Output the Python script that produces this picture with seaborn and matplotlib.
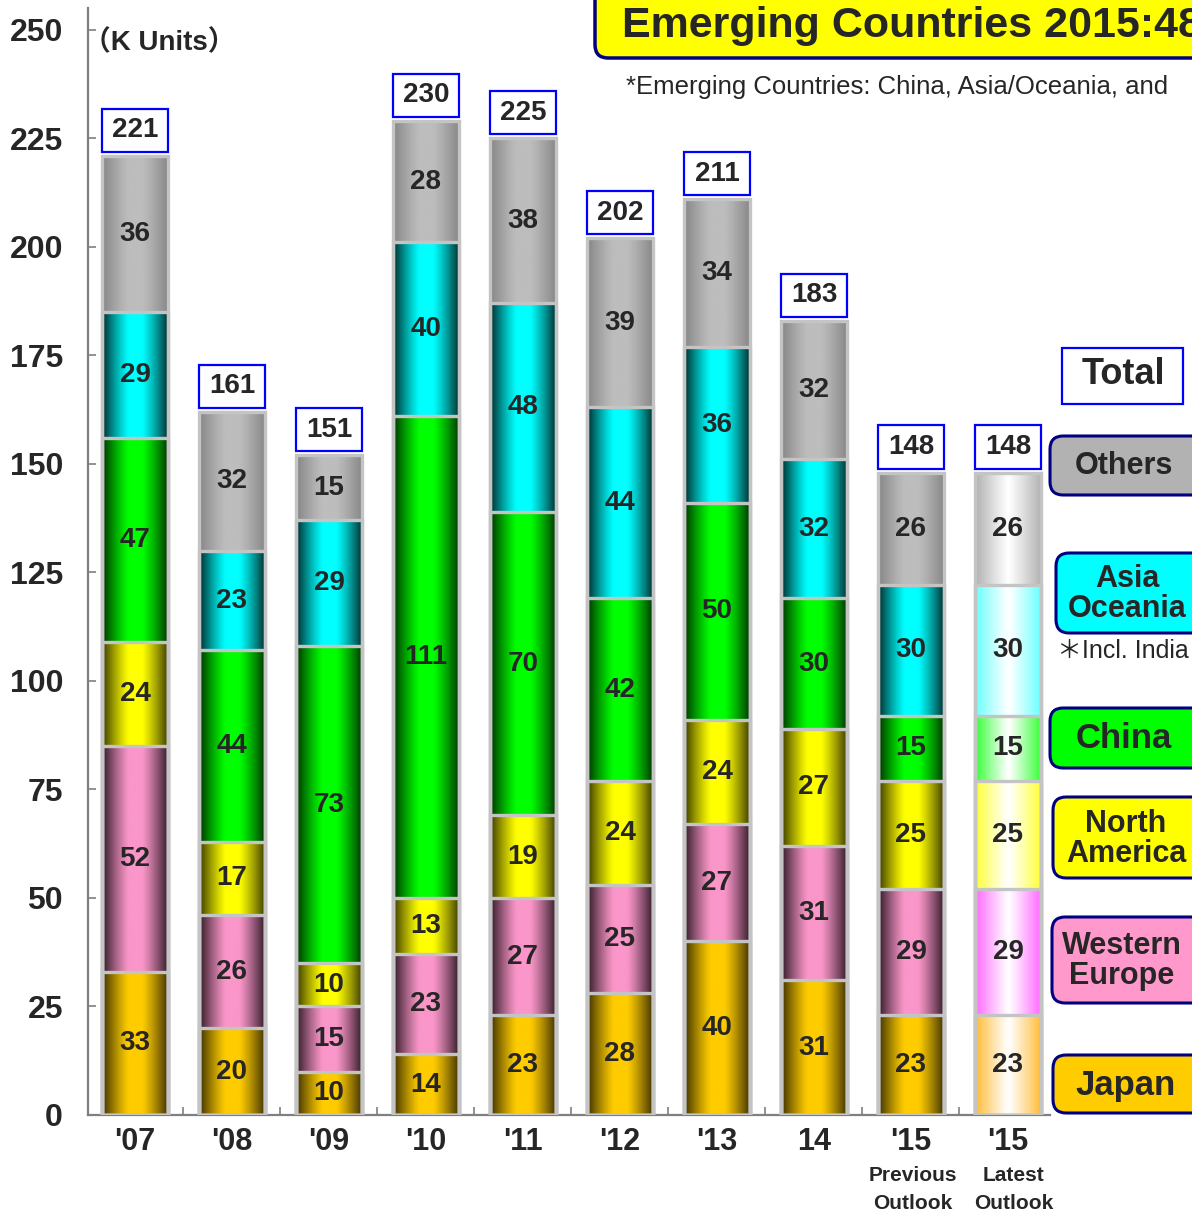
import numpy as np
import pandas as pd
import seaborn as sns
import matplotlib.pyplot as plt
from matplotlib.patches import FancyBboxPatch, Rectangle
from matplotlib.colors import to_rgb

# --- data (K units) ---
year_keys = ["2007", "2008", "2009", "2010", "2011", "2012", "2013", "2014", "2015P", "2015L"]
year_labels = ["'07", "'08", "'09", "'10", "'11", "'12", "'13", "14", "'15", "'15"]
sub_labels = ["", "", "", "", "", "", "", "", "Previous\nOutlook", "Latest\nOutlook"]

japan = [33, 20, 10, 14, 23, 28, 40, 31, 23, 23]
w_europe = [52, 26, 15, 23, 27, 25, 27, 31, 29, 29]
n_america = [24, 17, 10, 13, 19, 24, 24, 27, 25, 25]
china = [47, 44, 73, 111, 70, 42, 50, 30, 15, 15]
asia_oceania = [29, 23, 29, 40, 48, 44, 36, 32, 30, 30]
others = [36, 32, 15, 28, 38, 39, 34, 32, 26, 26]
totals = [221, 161, 151, 230, 225, 202, 211, 183, 148, 148]

region_names = ["Japan", "Western Europe", "North America", "China", "Asia Oceania", "Others"]
# centre colour, dark edge colour, pale edge colour (latest outlook bar)
region_colors = {
    "Japan": ("#ffcc00", "#3a2e00", "#ffbb33"),
    "Western Europe": ("#fa96c9", "#2c1823", "#ff66ff"),
    "North America": ("#ffff00", "#383800", "#ffff33"),
    "China": ("#00ff00", "#003000", "#33ff33"),
    "Asia Oceania": ("#00ffff", "#002a2a", "#66ffff"),
    "Others": ("#bdbdbd", "#858585", "#b0b0b0"),
}

W, H = 1192, 1210
PX_PER_UNIT = 1085 / 250


def cylinder(center, edge, n=160):
    t = np.linspace(0, 1, n)
    d = np.abs(2 * t - 1)
    m = np.clip((d - 0.2) / 0.8, 0, 1) ** 1.2
    c, e = np.array(to_rgb(center)), np.array(to_rgb(edge))
    return (c[None, :] * (1 - m[:, None]) + e[None, :] * m[:, None])[None, :, :]


def pale(edge, n=160):
    t = np.linspace(0, 1, n)
    d = np.abs(2 * t - 1) ** 1.1
    e = np.array(to_rgb(edge))
    return (np.ones(3)[None, :] * (1 - d[:, None]) + e[None, :] * d[:, None])[None, :, :]


def fig_box(x0, y0, x1, y1, fc, ec, lw, round_=True):
    style = "round,pad=0,rounding_size=0.011" if round_ else "square,pad=0"
    box = FancyBboxPatch((x0 / W, 1 - y1 / H), (x1 - x0) / W, (y1 - y0) / H,
                         boxstyle=style, transform=fig.transFigure,
                         fc=fc, ec=ec, lw=lw, zorder=5)
    fig.add_artist(box)


def fig_text(x, y, s, size, weight="bold", ha="center", **kw):
    fig.text(x / W, 1 - y / H, s, fontsize=size, fontweight=weight,
             ha=ha, va="center", linespacing=1.0, **kw)


sns.set_style("white")
plt.rcParams["font.family"] = ["Liberation Sans", "Noto Sans CJK JP", "DejaVu Sans"]

df = pd.DataFrame(dict(zip(region_names, [japan, w_europe, n_america, china, asia_oceania, others])),
                  index=year_keys)
cum = df.cumsum(axis=1)

fig = plt.figure(figsize=(W / 100, H / 100), dpi=100)
ax = fig.add_axes([88 / W, 1 - 1115 / H, (1050 - 88) / W, (1115 - 8) / H])

# stack by drawing cumulative bars from the top layer down
bar_geom = {}
for k in reversed(range(len(region_names))):
    name = region_names[k]
    center, dark, light = region_colors[name]
    n0 = len(ax.patches)
    sns.barplot(x=year_keys, y=cum[name].values, order=year_keys, color=center,
                width=0.69, saturation=1, errorbar=None, ax=ax)
    for j, p in enumerate(ax.patches[n0:]):
        x0, w, h = p.get_x(), p.get_width(), p.get_height()
        bar_geom[j] = (x0, w)
        grad = pale(light) if j == len(year_keys) - 1 else cylinder(center, dark)
        ax.imshow(grad, extent=[x0, x0 + w, 0, h], aspect="auto",
                  interpolation="bilinear", zorder=10 - k)
        p.set_facecolor("none")
        p.set_edgecolor("#c4c4c4")
        p.set_linewidth(2.4)
        p.set_zorder(20)

# segment values
for name in region_names:
    for i, key in enumerate(year_keys):
        v = df.loc[key, name]
        ax.text(i, cum.loc[key, name] - v / 2, str(v), ha="center", va="center",
                fontsize=20, fontweight="bold", zorder=30)

# total boxes
box_h = 43 / PX_PER_UNIT
gap = 4 / PX_PER_UNIT
for i, key in enumerate(year_keys):
    x0, w = bar_geom[i]
    top = cum.loc[key, "Others"]
    ax.add_patch(Rectangle((x0, top + gap), w, box_h, fc="white", ec="#0000ff",
                           lw=1.6, zorder=25))
    ax.text(i, top + gap + box_h / 2, str(totals[i]), ha="center", va="center",
            fontsize=20, fontweight="bold", zorder=30)

ax.set_xlim(-0.4845, 9.433)
ax.set_ylim(0, 255)
ax.set_yticks(range(0, 251, 25))
ax.set_yticklabels([str(v) for v in range(0, 251, 25)], fontsize=23, fontweight="bold")
ax.set_xticks(range(len(year_keys)))
ax.set_xticklabels(year_labels, fontsize=22, fontweight="bold")
ax.set_xticks(np.arange(0.5, len(year_keys) - 1, 1), minor=True)
ax.tick_params(axis="y", direction="in", length=6, width=1.2, color="#7f7f7f", pad=18, left=True)
ax.tick_params(axis="x", which="major", length=0, pad=9)
ax.tick_params(axis="x", which="minor", direction="in", length=6, width=1.2, color="#7f7f7f", bottom=True)
ax.set_xlabel("")
ax.set_ylabel("")
for side in ["top", "right"]:
    ax.spines[side].set_visible(False)
for side in ["left", "bottom"]:
    ax.spines[side].set_color("#7f7f7f")
    ax.spines[side].set_linewidth(1.6)

# sub labels under the two 2015 bars
for i, s in enumerate(sub_labels):
    if s:
        ax.text(i + (0.06 if i == 9 else 0.02), -0.046, s, transform=ax.get_xaxis_transform(),
                ha="center", va="top", fontsize=15, fontweight="bold", linespacing=1.6)

fig_text(83, 43, "（K Units）", 20, ha="left")

# title box and note
fig_box(595, -30, 1240, 58, "#ffff00", "#000080", 2.5)
fig_text(622, 26, "Emerging Countries 2015:48", 31, ha="left", zorder=6)
fig_text(626, 87, "*Emerging Countries: China, Asia/Oceania, and", 18.5, weight="normal", ha="left")

# legend boxes
fig_box(1062, 348, 1183, 404, "white", "#0000ff", 1.6, round_=False)
fig_text(1123, 375, "Total", 26, zorder=6)
legend_items = [
    ("Others", 436, 495, 1050, 1124, 22, "#b2b2b2"),
    ("Asia\nOceania", 553, 633, 1056, 1127, 22, "#00ffff"),
    ("China", 708, 768, 1050, 1124, 25, "#00ff00"),
    ("North\nAmerica", 797, 878, 1053, 1126, 22, "#ffff00"),
    ("Western\nEurope", 917, 1003, 1052, 1122, 22, "#ff99cc"),
    ("Japan", 1055, 1113, 1053, 1126, 25, "#ffcc00"),
]
for label, y0, y1, x0, xc, size, fc in legend_items:
    fig_box(x0, y0, 1240, y1, fc, "#000080", 2.2)
    fig_text(xc, (y0 + y1) / 2 + 1, label, size, zorder=6)
fig_text(1057, 651, "＊Incl. India", 18, weight="normal", ha="left")

fig.savefig("out.png", dpi=100)
